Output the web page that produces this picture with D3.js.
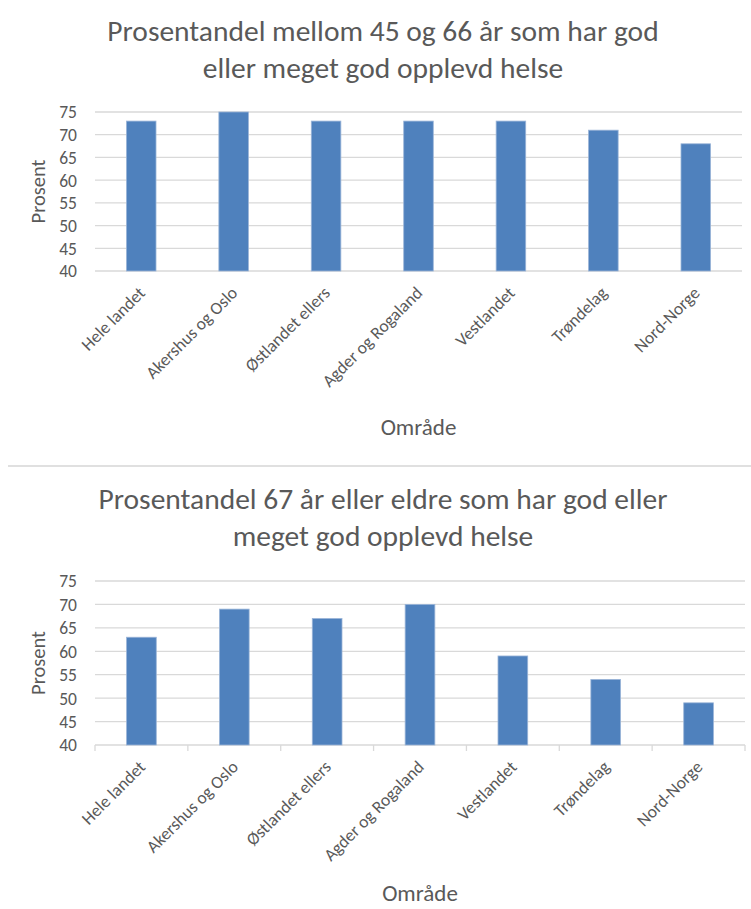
<!DOCTYPE html>
<html>
<head>
<meta charset="utf-8">
<script src="https://cdn.jsdelivr.net/npm/d3@7/dist/d3.min.js"></script>
<style>
  html, body { margin: 0; padding: 0; background: #fff; }
  svg { display: block; }
  text { font-family: Carlito, Calibri, Lato, "Open Sans", sans-serif; fill: #595959; }
</style>
</head>
<body>
<svg id="chart" width="751" height="909"></svg>
<script>
// Regions of Norway
const categories = [
  "Hele landet", "Akershus og Oslo", "Østlandet ellers", "Agder og Rogaland",
  "Vestlandet", "Trøndelag", "Nord-Norge"
];

// Share (%) reporting good or very good self-rated health
const valuesAge45to66 = [73, 75, 73, 73, 73, 71, 68];
const valuesAge67plus = [63, 69, 67, 70, 59, 54, 49];

const yTicks = [40, 45, 50, 55, 60, 65, 70, 75];
const yDomain = [40, 75];

const titleAge45to66 = ["Prosentandel mellom 45 og 66 år som har god", "eller meget god opplevd helse"];
const titleAge67plus = ["Prosentandel 67 år eller eldre som har god eller", "meget god opplevd helse"];

const yAxisTitle = "Prosent";
const xAxisTitle = "Område";

const svg = d3.select("#chart");
const BAR = "#4f81bd";
const GRID = "#d9d9d9";

function drawChart(opt) {
  const g = svg.append("g");

  // title, two centred lines
  g.append("text")
    .attr("x", opt.titleX)
    .attr("y", opt.titleY)
    .attr("text-anchor", "middle")
    .style("font-size", "29.5px")
    .selectAll("tspan")
    .data(opt.title)
    .join("tspan")
    .attr("x", opt.titleX)
    .attr("dy", (d, i) => i === 0 ? 0 : 37)
    .text(d => d);

  const x = d3.scaleBand()
    .domain(categories)
    .range([opt.left, opt.right])
    .padding(0);

  const y = d3.scaleLinear()
    .domain(yDomain)
    .range([opt.bottom, opt.top]);

  // horizontal gridlines
  g.append("g")
    .selectAll("line")
    .data(yTicks)
    .join("line")
    .attr("x1", opt.left)
    .attr("x2", opt.right)
    .attr("y1", d => y(d))
    .attr("y2", d => y(d))
    .attr("stroke", GRID)
    .attr("stroke-width", 1.3);

  // y axis labels
  const yAxis = d3.axisLeft(y).tickValues(yTicks).tickSize(0).tickPadding(0);
  g.append("g")
    .attr("transform", `translate(${opt.left - 18},0)`)
    .call(yAxis)
    .call(s => s.select(".domain").remove())
    .call(s => s.selectAll("text")
      .attr("dy", "0.34em")
      .style("font-size", "17.5px")
      .style("fill", "#595959"));

  // x axis: labels rotated, optional tick marks on category boundaries
  const xAxisG = g.append("g")
    .attr("transform", `translate(0,${opt.bottom})`)
    .call(d3.axisBottom(x).tickSize(0).tickFormat(""))
    .call(s => s.selectAll(".tick").remove())
    .call(s => s.select(".domain").remove());

  if (opt.tickMarks) {
    const edges = categories.map(c => x(c)).concat([opt.right]);
    xAxisG.selectAll("line.edge")
      .data(edges)
      .join("line")
      .attr("class", "edge")
      .attr("x1", d => d)
      .attr("x2", d => d)
      .attr("y1", 0)
      .attr("y2", 6)
      .attr("stroke", GRID)
      .attr("stroke-width", 1.3);
  }

  xAxisG.selectAll("text.cat")
    .data(categories)
    .join("text")
    .attr("class", "cat")
    .attr("text-anchor", "end")
    .attr("transform", d => `translate(${x(d) + x.bandwidth() / 2 + 5},${23}) rotate(-45)`)
    .style("font-size", "17.5px")
    .text(d => d);

  // bars
  const barW = x.bandwidth() * 0.32;
  g.append("g")
    .selectAll("rect")
    .data(opt.values)
    .join("rect")
    .attr("x", (d, i) => x(categories[i]) + x.bandwidth() / 2 - barW / 2)
    .attr("y", d => y(d))
    .attr("width", barW)
    .attr("height", d => y(yDomain[0]) - y(d))
    .attr("fill", BAR)
    .attr("stroke", "#9bb5d8")
    .attr("stroke-width", 0.8);

  // axis titles
  g.append("text")
    .attr("transform", `translate(${opt.left - 50},${(opt.top + opt.bottom) / 2}) rotate(-90)`)
    .attr("text-anchor", "middle")
    .style("font-size", "20.5px")
    .text(yAxisTitle);

  g.append("text")
    .attr("x", (opt.left + opt.right) / 2)
    .attr("y", opt.xTitleY)
    .attr("text-anchor", "middle")
    .style("font-size", "23px")
    .text(xAxisTitle);
}

drawChart({
  title: titleAge45to66, titleX: 383, titleY: 41,
  values: valuesAge45to66,
  left: 95, right: 742, top: 112, bottom: 271,
  tickMarks: false, xTitleY: 435
});

// divider between the two panels
svg.append("line")
  .attr("x1", 8).attr("x2", 751)
  .attr("y1", 466).attr("y2", 466)
  .attr("stroke", "#e0e0e0")
  .attr("stroke-width", 2);

drawChart({
  title: titleAge67plus, titleX: 383, titleY: 509,
  values: valuesAge67plus,
  left: 95, right: 745, top: 581, bottom: 745,
  tickMarks: true, xTitleY: 901
});
</script>
</body>
</html>
